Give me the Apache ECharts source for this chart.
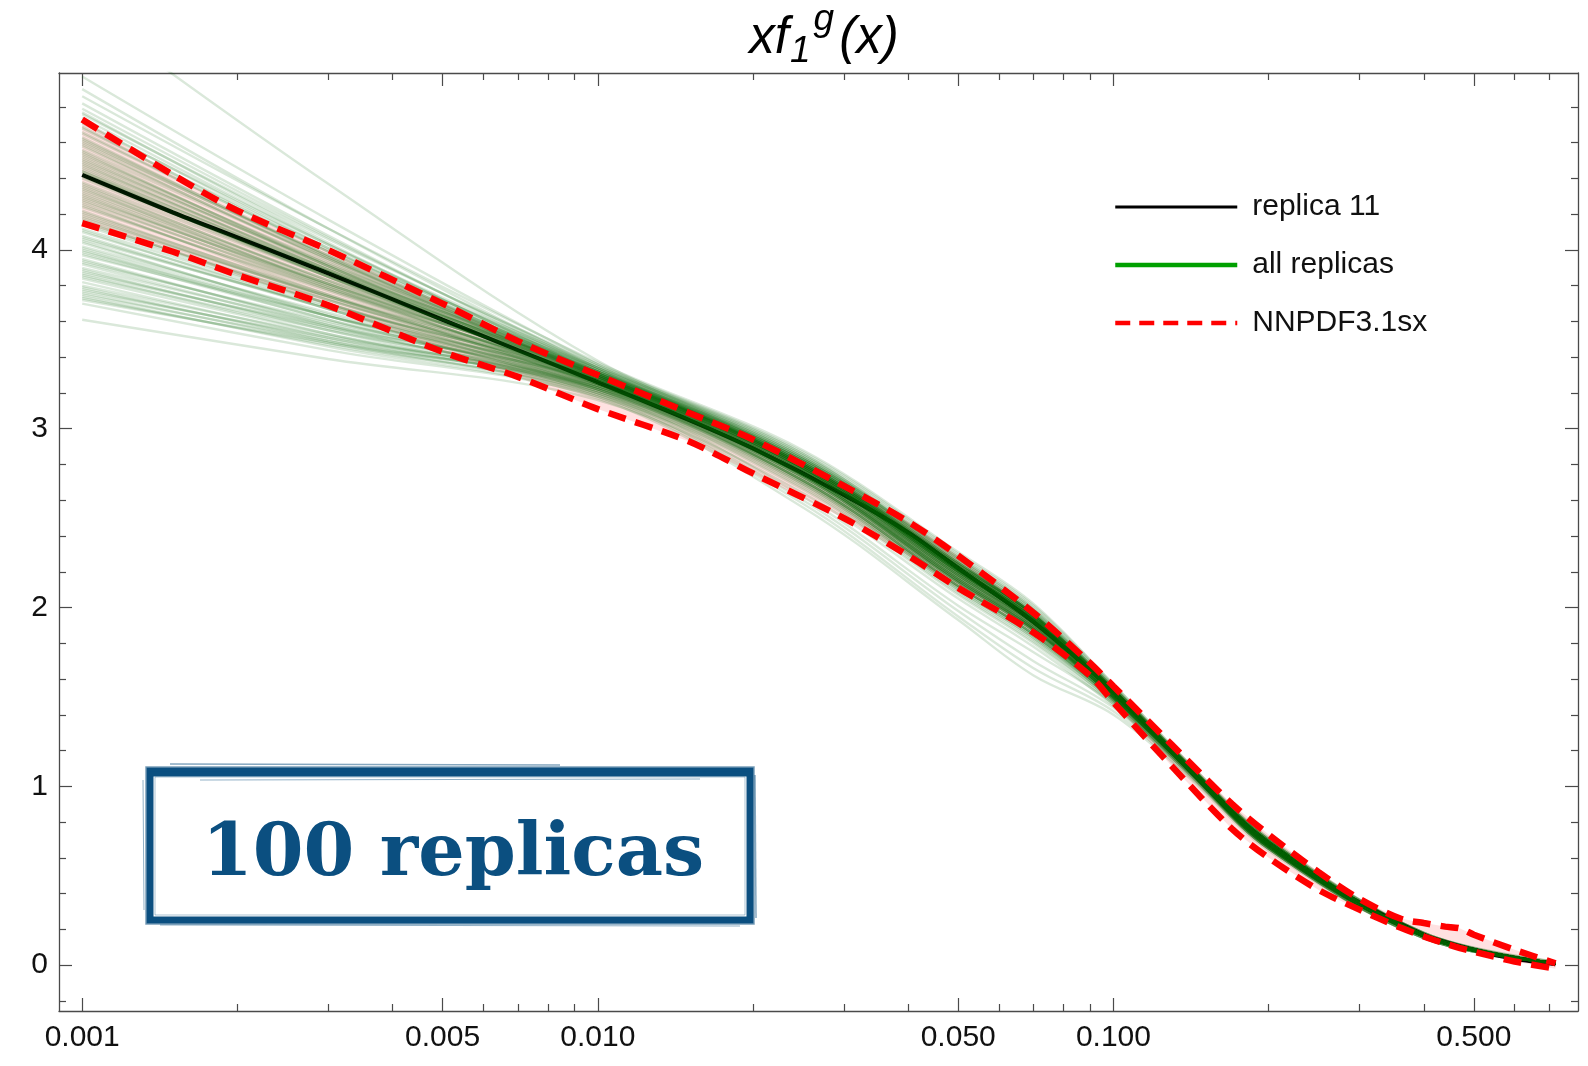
<!DOCTYPE html>
<html>
<head>
<meta charset="utf-8">
<script src="https://cdn.jsdelivr.net/npm/echarts@6/dist/echarts.min.js"></script>
<style>
html,body{margin:0;padding:0;background:#fff;}
#chart{width:1588px;height:1066px;}
</style>
</head>
<body>
<div id="chart"></div>
<script>
// ---------- data ----------
const X_MAJOR_TICKS = [0.001, 0.005, 0.01, 0.05, 0.1, 0.5];
const X_TICK_LABELS = ['0.001', '0.005', '0.010', '0.050', '0.100', '0.500'];
const X_MINOR_TICKS = [0.002, 0.003, 0.004, 0.006, 0.007, 0.008, 0.009, 0.02, 0.03, 0.04, 0.06, 0.07, 0.08, 0.09, 0.2, 0.3, 0.4, 0.6, 0.7];
const Y_MAJOR_TICKS = [0, 1, 2, 3, 4];
const Y_TICK_LABELS = ['0', '1', '2', '3', '4'];
const Y_MINOR_TICKS = [-0.2, 0.2, 0.4, 0.6, 0.8, 1.2, 1.4, 1.6, 1.8, 2.2, 2.4, 2.6, 2.8, 3.2, 3.4, 3.6, 3.8, 4.2, 4.4, 4.6, 4.8];

// replica 11 (black)
const X_CENTRAL = [0.001, 0.0015, 0.002, 0.003, 0.005, 0.007, 0.01, 0.015, 0.02, 0.03, 0.04, 0.05, 0.07, 0.1, 0.13, 0.17, 0.2, 0.25, 0.3, 0.4, 0.5, 0.6, 0.72];
const Y_CENTRAL = [4.42, 4.21, 4.07, 3.87, 3.61, 3.44, 3.26, 3.05, 2.89, 2.63, 2.42, 2.22, 1.92, 1.53, 1.19, 0.85, 0.68, 0.48, 0.35, 0.17, 0.085, 0.035, 0.005];

// NNPDF3.1sx band
const X_NNPDF = [0.001, 0.0015, 0.002, 0.003, 0.005, 0.007, 0.01, 0.015, 0.02, 0.03, 0.04, 0.05, 0.07, 0.09, 0.1, 0.13, 0.17, 0.2, 0.25, 0.3, 0.36, 0.4, 0.44, 0.47, 0.5, 0.6, 0.72];
const Y_NNPDF_UPPER = [4.73, 4.42, 4.22, 4.00, 3.70, 3.49, 3.30, 3.09, 2.94, 2.68, 2.48, 2.29, 1.97, 1.69, 1.56, 1.23, 0.90, 0.73, 0.52, 0.37, 0.26, 0.235, 0.215, 0.205, 0.17, 0.085, 0.01];
const Y_NNPDF_LOWER = [4.15, 3.99, 3.86, 3.69, 3.43, 3.29, 3.11, 2.93, 2.75, 2.50, 2.29, 2.11, 1.86, 1.62, 1.47, 1.11, 0.76, 0.60, 0.42, 0.31, 0.21, 0.16, 0.12, 0.095, 0.075, 0.02, -0.02];

// all 100 replicas, values at X_REPLICA
const X_REPLICA = [0.001, 0.003, 0.01, 0.025, 0.05, 0.07, 0.1, 0.14, 0.2, 0.4, 0.72];
const REPLICAS = [
[5.35,4.37,3.38,2.86,2.25,1.96,1.54,1.11,0.69,0.17,0.01],
[4.97,4.17,3.36,2.84,2.26,1.97,1.55,1.12,0.70,0.18,0.01],
[4.90,4.12,3.34,2.83,2.28,1.99,1.56,1.12,0.70,0.17,0.02],
[4.86,4.12,3.37,2.88,2.31,2.02,1.57,1.13,0.71,0.18,0.01],
[4.82,4.08,3.33,2.81,2.24,1.96,1.54,1.11,0.69,0.17,0.01],
[4.79,4.07,3.35,2.85,2.27,1.98,1.55,1.12,0.70,0.17,0.01],
[4.77,4.04,3.31,2.79,2.21,1.93,1.52,1.10,0.68,0.16,0.01],
[4.76,4.06,3.36,2.87,2.30,2.01,1.57,1.13,0.71,0.18,0.02],
[4.74,4.03,3.32,2.81,2.23,1.95,1.53,1.11,0.69,0.17,0.01],
[4.72,4.01,3.30,2.78,2.20,1.92,1.52,1.10,0.68,0.17,0.01],
[4.71,4.03,3.34,2.84,2.26,1.97,1.55,1.12,0.70,0.18,0.01],
[4.69,3.99,3.29,2.77,2.19,1.91,1.51,1.10,0.68,0.16,0.01],
[4.68,4.01,3.33,2.82,2.25,1.96,1.54,1.11,0.69,0.17,0.01],
[4.66,3.99,3.31,2.80,2.22,1.94,1.53,1.11,0.69,0.17,0.01],
[4.65,4.00,3.35,2.86,2.29,2.00,1.56,1.12,0.70,0.17,0.02],
[4.63,3.96,3.28,2.76,2.18,1.90,1.51,1.10,0.67,0.16,0.01],
[4.62,3.97,3.32,2.81,2.23,1.95,1.53,1.11,0.69,0.17,0.01],
[4.61,3.96,3.30,2.79,2.21,1.93,1.52,1.10,0.68,0.17,0.01],
[4.60,3.97,3.34,2.84,2.27,1.98,1.55,1.12,0.70,0.18,0.01],
[4.59,3.94,3.29,2.78,2.20,1.92,1.52,1.10,0.68,0.17,0.01],
[4.58,3.95,3.31,2.80,2.23,1.95,1.53,1.11,0.69,0.17,0.01],
[4.56,3.95,3.33,2.83,2.25,1.96,1.54,1.11,0.69,0.17,0.01],
[4.55,3.91,3.27,2.75,2.17,1.89,1.50,1.09,0.67,0.16,0.01],
[4.54,3.92,3.30,2.79,2.22,1.94,1.53,1.11,0.69,0.17,0.01],
[4.53,3.93,3.32,2.82,2.24,1.96,1.54,1.11,0.69,0.17,0.01],
[4.52,3.91,3.29,2.78,2.20,1.92,1.52,1.10,0.68,0.17,0.01],
[4.51,3.91,3.31,2.80,2.22,1.94,1.53,1.11,0.69,0.17,0.01],
[4.50,3.92,3.34,2.85,2.28,1.99,1.55,1.12,0.70,0.18,0.02],
[4.49,3.89,3.28,2.77,2.19,1.91,1.51,1.10,0.68,0.16,0.01],
[4.48,3.89,3.30,2.79,2.21,1.93,1.52,1.10,0.68,0.17,0.01],
[4.47,3.90,3.32,2.81,2.24,1.96,1.54,1.11,0.69,0.17,0.01],
[4.46,3.88,3.29,2.78,2.20,1.92,1.52,1.10,0.68,0.17,0.01],
[4.45,3.88,3.31,2.80,2.22,1.94,1.53,1.11,0.69,0.17,0.01],
[4.44,3.85,3.26,2.74,2.16,1.88,1.50,1.09,0.67,0.16,0.01],
[4.44,3.89,3.33,2.83,2.25,1.96,1.54,1.11,0.69,0.17,0.01],
[4.43,3.87,3.30,2.79,2.21,1.93,1.52,1.10,0.68,0.17,0.01],
[4.42,3.85,3.28,2.76,2.18,1.90,1.51,1.10,0.68,0.16,0.01],
[4.41,3.86,3.31,2.80,2.23,1.95,1.53,1.11,0.69,0.17,0.01],
[4.40,3.85,3.29,2.78,2.20,1.92,1.52,1.10,0.68,0.17,0.01],
[4.38,3.85,3.32,2.82,2.24,1.96,1.54,1.11,0.69,0.17,0.01],
[4.37,3.82,3.27,2.75,2.17,1.89,1.50,1.09,0.67,0.16,0.01],
[4.36,3.83,3.30,2.79,2.21,1.93,1.52,1.10,0.68,0.17,0.01],
[4.35,3.80,3.25,2.72,2.14,1.87,1.49,1.09,0.67,0.16,0.01],
[4.34,3.83,3.31,2.80,2.22,1.94,1.53,1.11,0.69,0.17,0.01],
[4.33,3.81,3.28,2.77,2.19,1.91,1.51,1.10,0.68,0.17,0.01],
[4.32,3.81,3.30,2.79,2.21,1.93,1.52,1.10,0.68,0.17,0.01],
[4.31,3.79,3.26,2.74,2.16,1.88,1.50,1.09,0.67,0.16,0.01],
[4.30,3.80,3.29,2.78,2.20,1.92,1.52,1.10,0.68,0.17,0.01],
[4.29,3.81,3.32,2.82,2.24,1.96,1.54,1.11,0.69,0.17,0.01],
[4.28,3.78,3.27,2.76,2.18,1.90,1.51,1.10,0.68,0.16,0.01],
[4.27,3.79,3.30,2.79,2.21,1.93,1.52,1.10,0.68,0.17,0.01],
[4.26,3.75,3.24,2.73,2.15,1.88,1.50,1.09,0.66,0.16,0.01],
[4.25,3.77,3.28,2.80,2.22,1.94,1.53,1.11,0.68,0.17,0.01],
[4.24,3.78,3.31,2.83,2.25,1.97,1.55,1.12,0.69,0.17,0.01],
[4.22,3.74,3.26,2.77,2.19,1.91,1.52,1.10,0.67,0.16,0.01],
[4.21,3.75,3.29,2.81,2.23,1.95,1.54,1.11,0.68,0.17,0.01],
[4.20,3.73,3.25,2.75,2.16,1.89,1.51,1.10,0.67,0.16,0.01],
[4.19,3.74,3.28,2.80,2.22,1.94,1.53,1.11,0.68,0.17,0.01],
[4.18,3.74,3.30,2.82,2.24,1.96,1.54,1.11,0.68,0.17,0.01],
[4.17,3.70,3.23,2.72,2.13,1.86,1.49,1.09,0.66,0.16,0.01],
[4.16,3.72,3.27,2.78,2.20,1.92,1.52,1.10,0.67,0.16,0.01],
[4.15,3.72,3.29,2.81,2.23,1.95,1.54,1.11,0.68,0.17,0.01],
[4.14,3.70,3.25,2.75,2.17,1.90,1.51,1.10,0.67,0.16,0.01],
[4.12,3.70,3.27,2.78,2.20,1.92,1.52,1.10,0.67,0.16,0.01],
[4.11,3.67,3.22,2.71,2.12,1.85,1.49,1.09,0.66,0.16,0.01],
[4.10,3.69,3.28,2.80,2.22,1.94,1.53,1.11,0.68,0.17,0.01],
[4.08,3.67,3.25,2.75,2.16,1.89,1.51,1.10,0.67,0.16,0.01],
[4.07,3.67,3.26,2.77,2.18,1.91,1.52,1.10,0.67,0.16,0.01],
[4.06,3.68,3.29,2.81,2.23,1.95,1.54,1.11,0.68,0.17,0.01],
[4.05,3.63,3.21,2.69,2.10,1.83,1.48,1.08,0.66,0.16,0.01],
[4.04,3.64,3.24,2.74,2.15,1.88,1.50,1.09,0.67,0.16,0.01],
[4.02,3.65,3.27,2.78,2.20,1.92,1.52,1.10,0.67,0.16,0.01],
[4.01,3.63,3.25,2.76,2.17,1.90,1.51,1.10,0.67,0.16,0.01],
[4.00,3.61,3.22,2.71,2.12,1.85,1.49,1.09,0.66,0.16,0.01],
[3.99,3.63,3.26,2.77,2.18,1.91,1.52,1.10,0.67,0.16,0.01],
[3.98,3.61,3.23,2.73,2.14,1.87,1.50,1.09,0.66,0.16,0.01],
[3.97,3.63,3.28,2.80,2.22,1.94,1.53,1.11,0.68,0.17,0.01],
[3.95,3.58,3.20,2.68,2.09,1.82,1.47,1.08,0.65,0.15,0.01],
[3.94,3.59,3.24,2.74,2.15,1.88,1.50,1.09,0.67,0.16,0.01],
[3.93,3.60,3.26,2.77,2.18,1.91,1.52,1.10,0.67,0.16,0.01],
[3.92,3.57,3.22,2.71,2.12,1.85,1.49,1.09,0.66,0.16,0.01],
[3.90,3.58,3.25,2.75,2.16,1.89,1.51,1.10,0.67,0.16,0.01],
[3.89,3.55,3.21,2.70,2.11,1.84,1.48,1.08,0.66,0.16,0.01],
[3.88,3.56,3.23,2.73,2.14,1.87,1.50,1.09,0.66,0.16,0.01],
[3.87,3.57,3.27,2.79,2.21,1.93,1.53,1.11,0.68,0.17,0.01],
[3.86,3.53,3.19,2.60,1.98,1.70,1.44,1.07,0.65,0.15,0.01],
[3.85,3.55,3.24,2.74,2.15,1.88,1.50,1.09,0.67,0.16,0.01],
[3.84,3.53,3.22,2.71,2.12,1.85,1.49,1.09,0.66,0.16,0.01],
[3.82,3.51,3.20,2.62,2.01,1.75,1.46,1.07,0.65,0.15,0.01],
[3.80,3.52,3.23,2.73,2.14,1.87,1.50,1.09,0.66,0.16,0.01],
[3.79,3.49,3.18,2.58,1.95,1.66,1.42,1.06,0.65,0.15,0.01],
[3.78,3.50,3.21,2.70,2.11,1.84,1.48,1.08,0.66,0.16,0.01],
[3.77,3.51,3.24,2.74,2.15,1.88,1.50,1.09,0.67,0.16,0.01],
[3.76,3.48,3.19,2.67,2.08,1.81,1.47,1.08,0.65,0.15,0.01],
[3.75,3.49,3.22,2.71,2.12,1.85,1.49,1.09,0.66,0.16,0.01],
[3.74,3.46,3.17,2.56,1.93,1.62,1.40,1.05,0.64,0.15,0.01],
[3.73,3.47,3.20,2.69,2.10,1.83,1.48,1.08,0.66,0.16,0.01],
[3.72,3.48,3.23,2.73,2.14,1.87,1.50,1.09,0.66,0.16,0.01],
[3.70,3.44,3.18,2.66,2.07,1.80,1.46,1.07,0.65,0.15,0.01],
[3.61,3.39,3.16,2.64,2.05,1.78,1.45,1.07,0.65,0.15,0.01]
];

const TITLE_PARTS = ['xf', '1', 'g', '(x)'];
const LEGEND_NAMES = ['replica 11', 'all replicas', 'NNPDF3.1sx'];
const STAMP_TEXT = '100 replicas';

// ---------- chart ----------
const L = Math.log10;
const X_MIN = -3.045, X_MAX = -0.099;
const Y_MIN = -0.257, Y_MAX = 4.99;
const AXIS_COLOR = '#4a4a4a';
const TICK_FONT = '"Liberation Sans Narrow", "Liberation Sans", Arial, sans-serif';
const SANS = '"Liberation Sans", Arial, sans-serif';
const STAMP_COLOR = '#0b4f80';

function pairs(xs, ys) { return xs.map((x, i) => [L(x), ys[i]]); }

function xAxisDef(pos, major, labels) {
  const vals = (major ? X_MAJOR_TICKS : X_MINOR_TICKS).map(L);
  return {
    type: 'value', position: pos, min: X_MIN, max: X_MAX, gridIndex: 0,
    axisLine: { show: major, onZero: false, lineStyle: { color: AXIS_COLOR, width: 1.3 } },
    axisTick: { show: true, inside: true, length: major ? 13 : 7, customValues: vals,
                lineStyle: { color: AXIS_COLOR, width: 1.2 } },
    axisLabel: labels ? {
      show: true, customValues: X_MAJOR_TICKS.map(L), margin: 12,
      fontSize: 30, fontFamily: TICK_FONT, color: '#111',
      formatter: v => { let best = 0; X_MAJOR_TICKS.forEach((t, i) => { if (Math.abs(L(t) - v) < Math.abs(L(X_MAJOR_TICKS[best]) - v)) best = i; }); return X_TICK_LABELS[best]; }
    } : { show: false },
    splitLine: { show: false }
  };
}
function yAxisDef(pos, major, labels) {
  const vals = major ? Y_MAJOR_TICKS : Y_MINOR_TICKS;
  return {
    type: 'value', position: pos, min: Y_MIN, max: Y_MAX, gridIndex: 0,
    axisLine: { show: major, onZero: false, lineStyle: { color: AXIS_COLOR, width: 1.3 } },
    axisTick: { show: true, inside: true, length: major ? 13 : 7, customValues: vals,
                lineStyle: { color: AXIS_COLOR, width: 1.2 } },
    axisLabel: labels ? {
      show: true, customValues: Y_MAJOR_TICKS, margin: 11,
      fontSize: 30, fontFamily: TICK_FONT, color: '#111',
      formatter: v => { const i = Y_MAJOR_TICKS.findIndex(t => Math.abs(t - v) < 1e-6); return i >= 0 ? Y_TICK_LABELS[i] : ''; }
    } : { show: false },
    splitLine: { show: false }
  };
}

const series = [];
// NNPDF band fill
series.push({
  type: 'custom', name: 'band', silent: true, z: 1,
  coordinateSystem: 'cartesian2d', xAxisIndex: 0, yAxisIndex: 0,
  data: [[L(X_NNPDF[0]), Y_NNPDF_UPPER[0]]],
  renderItem: function (params, api) {
    const pts = [];
    for (let i = 0; i < X_NNPDF.length; i++) pts.push(api.coord([L(X_NNPDF[i]), Y_NNPDF_UPPER[i]]));
    for (let i = X_NNPDF.length - 1; i >= 0; i--) pts.push(api.coord([L(X_NNPDF[i]), Y_NNPDF_LOWER[i]]));
    return { type: 'polygon', shape: { points: pts, smooth: 0 }, style: { fill: 'rgba(255,40,40,0.14)', stroke: null } };
  }
});
// replica 11
series.push({
  type: 'line', name: 'replica 11', data: pairs(X_CENTRAL, Y_CENTRAL),
  symbol: 'none', smooth: 0.3, z: 2,
  lineStyle: { color: '#000', width: 4.2 }
});
// all replicas
REPLICAS.forEach(r => {
  series.push({
    type: 'line', name: 'all replicas', data: pairs(X_REPLICA, r),
    symbol: 'none', smooth: 0.35, z: 2, silent: true,
    lineStyle: { color: 'rgb(10,100,10)', width: 2.4, opacity: 0.15 }
  });
});
// NNPDF dashed
[Y_NNPDF_UPPER, Y_NNPDF_LOWER].forEach(ys => {
  series.push({
    type: 'line', name: 'NNPDF3.1sx', data: pairs(X_NNPDF, ys),
    symbol: 'none', smooth: 0.3, z: 3,
    lineStyle: { color: '#ff0000', width: 6.5, type: [18, 10] }
  });
});

const hidden = { opacity: 0 };
const option = {
  animation: false,
  backgroundColor: '#fff',
  title: {
    text: '{m|' + TITLE_PARTS[0] + '}{sb|' + TITLE_PARTS[1] + '}{sp|' + TITLE_PARTS[2] + '}{m|' + TITLE_PARTS[3] + '}',
    left: 819, top: -6, textAlign: 'center',
    textStyle: {
      fontWeight: 'normal',
      rich: {
        m: { fontSize: 51, fontStyle: 'italic', fontWeight: 'normal', fontFamily: SANS, color: '#000', lineHeight: 80 },
        sb: { fontSize: 37, fontStyle: 'italic', fontWeight: 'normal', fontFamily: SANS, color: '#000', verticalAlign: 'bottom', padding: [0, 0, 9, 1] },
        sp: { fontSize: 37, fontStyle: 'italic', fontWeight: 'normal', fontFamily: SANS, color: '#000', verticalAlign: 'top', padding: [2, 5, 0, 3] }
      }
    }
  },
  grid: { left: 59, right: 10, top: 73, bottom: 55, containLabel: false },
  xAxis: [xAxisDef('bottom', true, true), xAxisDef('bottom', false, false), xAxisDef('top', true, false), xAxisDef('top', false, false)],
  yAxis: [yAxisDef('left', true, true), yAxisDef('left', false, false), yAxisDef('right', true, false), yAxisDef('right', false, false)],
  legend: {
    orient: 'vertical', left: 1108, top: 184,
    itemWidth: 122, itemHeight: 20, itemGap: 22, selectedMode: false,
    textStyle: { fontSize: 30, fontFamily: SANS, color: '#111', lineHeight: 36, padding: [0, 0, 0, 10] },
    data: [
      { name: LEGEND_NAMES[0], itemStyle: hidden, lineStyle: { color: '#000', width: 3, opacity: 1, type: 'solid' } },
      { name: LEGEND_NAMES[1], itemStyle: hidden, lineStyle: { color: '#00a000', width: 4.5, opacity: 1, type: 'solid' } },
      { name: LEGEND_NAMES[2], itemStyle: hidden, lineStyle: { color: '#ff0000', width: 4.5, opacity: 1, type: [15, 9] } }
    ]
  },
  graphic: [
    { type: 'rect', z: 100, shape: { x: 150, y: 771, width: 600, height: 149 }, style: { fill: 'none', stroke: STAMP_COLOR, lineWidth: 7 } },
    { type: 'rect', z: 100, shape: { x: 146, y: 767, width: 608, height: 157 }, style: { fill: 'none', stroke: STAMP_COLOR, lineWidth: 1.5, opacity: 0.55 } },
    { type: 'line', z: 100, shape: { x1: 150, y1: 774, x2: 750, y2: 774 }, style: { stroke: STAMP_COLOR, lineWidth: 5 } },
    { type: 'line', z: 100, shape: { x1: 170, y1: 764, x2: 560, y2: 765 }, style: { stroke: STAMP_COLOR, lineWidth: 1.5, opacity: 0.5 } },
    { type: 'line', z: 100, shape: { x1: 200, y1: 780, x2: 700, y2: 779 }, style: { stroke: STAMP_COLOR, lineWidth: 1, opacity: 0.45 } },
    { type: 'line', z: 100, shape: { x1: 160, y1: 925, x2: 740, y2: 926 }, style: { stroke: STAMP_COLOR, lineWidth: 1.2, opacity: 0.45 } },
    { type: 'line', z: 100, shape: { x1: 143, y1: 780, x2: 144, y2: 910 }, style: { stroke: STAMP_COLOR, lineWidth: 1, opacity: 0.45 } },
    { type: 'line', z: 100, shape: { x1: 755, y1: 775, x2: 756, y2: 918 }, style: { stroke: STAMP_COLOR, lineWidth: 1.5, opacity: 0.5 } },
    { type: 'rect', z: 100, shape: { x: 155, y: 777, width: 590, height: 138 }, style: { fill: 'none', stroke: STAMP_COLOR, lineWidth: 1, opacity: 0.35 } },
    { type: 'text', z: 101, x: 453, y: 856, style: { text: STAMP_TEXT, fill: STAMP_COLOR, font: 'bold 73px "DejaVu Serif", serif', textAlign: 'center', textVerticalAlign: 'middle' } }
  ],
  series: series
};

const chart = echarts.init(document.getElementById('chart'), null, { renderer: 'canvas' });
chart.setOption(option);
</script>
</body>
</html>
